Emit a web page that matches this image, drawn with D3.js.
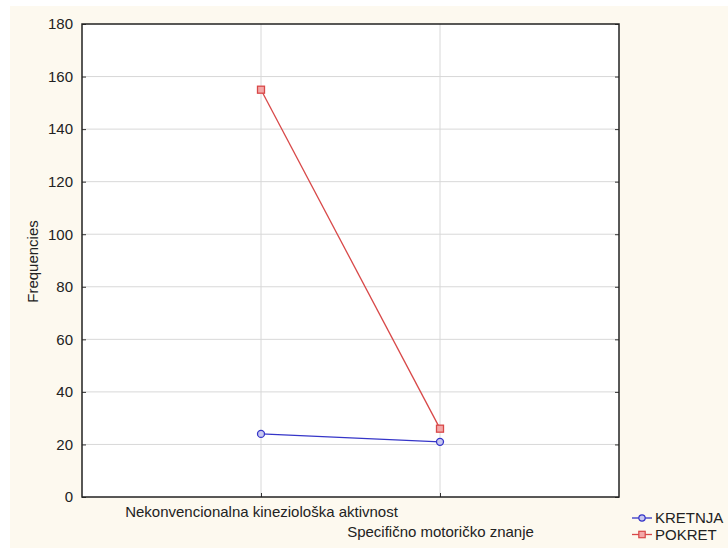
<!DOCTYPE html>
<html>
<head>
<meta charset="utf-8">
<script src="https://cdn.jsdelivr.net/npm/d3@7"></script>
<style>
  body { margin: 0; background: #fff; }
  svg { display: block; font-family: "Liberation Sans", Arial, sans-serif; }
</style>
</head>
<body>
<svg id="chart" width="728" height="548"></svg>
<script>
const categories = ['Nekonvencionalna kineziološka aktivnost', 'Specifično motoričko znanje']
const kretnja = [24, 21]
const pokret = [155, 26]
const yTicks = [0, 20, 40, 60, 80, 100, 120, 140, 160, 180]

const series = [
  { name: 'KRETNJA', values: kretnja, color: '#3535c8', fill: '#c8c8f0', shape: 'circle' },
  { name: 'POKRET', values: pokret, color: '#d84848', fill: '#f4a8a8', shape: 'square' },
]

const fontSize = 15
const svg = d3.select('#chart')
const margins = { top: 24, right: 109, bottom: 51, left: 82 }
const width = 728 - margins.left - margins.right
const height = 548 - margins.top - margins.bottom

svg.append('rect')
  .attr('x', 10).attr('y', 6)
  .attr('width', 718).attr('height', 542)
  .attr('fill', '#fdf9ef')

const g = svg.append('g')
  .attr('transform', `translate(${margins.left}, ${margins.top})`)

const x = d3.scalePoint().domain(categories).range([0, width]).padding(1)
const y = d3.scaleLinear().domain([0, 180]).range([height, 0])

g.append('rect')
  .attr('width', width).attr('height', height)
  .attr('fill', '#fff')

// grid
g.selectAll('.hgrid')
  .data(yTicks.slice(1, -1))
  .enter().append('line')
  .attr('x1', 0).attr('x2', width)
  .attr('y1', (d) => y(d)).attr('y2', (d) => y(d))
  .attr('stroke', '#d8d8d8')
g.selectAll('.vgrid')
  .data(categories)
  .enter().append('line')
  .attr('x1', (d) => x(d)).attr('x2', (d) => x(d))
  .attr('y1', 0).attr('y2', height)
  .attr('stroke', '#d8d8d8')

// axes
const leftAxis = d3.axisLeft(y).tickValues(yTicks).tickSize(-4).tickPadding(9)
const yAxis = g.append('g').attr('class', 'axis axis--y').call(leftAxis)
yAxis.select('.domain').remove()
yAxis.selectAll('text').attr('font-size', fontSize).attr('fill', '#222').attr('font-family', null)
yAxis.selectAll('line').attr('stroke', '#333')

const rightAxis = d3.axisRight(y).tickValues(yTicks).tickSize(-4).tickFormat('')
const yAxisR = g.append('g').attr('transform', `translate(${width}, 0)`).call(rightAxis)
yAxisR.select('.domain').remove()
yAxisR.selectAll('line').attr('stroke', '#333')

const bottomAxis = d3.axisBottom(x).tickSize(-4).tickPadding(0)
const xAxis = g.append('g')
  .attr('class', 'axis axis--x')
  .attr('transform', `translate(0, ${height})`)
  .call(bottomAxis)
xAxis.select('.domain').remove()
xAxis.selectAll('line').attr('stroke', '#333')
xAxis.selectAll('text')
  .attr('font-size', fontSize).attr('fill', '#222').attr('font-family', null)
  .attr('y', (d, i) => 20 + i * 20)
  .attr('dy', 0)

g.append('rect')
  .attr('width', width).attr('height', height)
  .attr('fill', 'none')
  .attr('stroke', '#222')
  .attr('stroke-width', 1.5)

svg.append('text')
  .attr('transform', `translate(38, ${margins.top + height / 2 + 1}) rotate(-90)`)
  .attr('text-anchor', 'middle')
  .attr('font-size', fontSize)
  .attr('fill', '#222')
  .text('Frequencies')

// lines and markers
const line = d3.line()
  .x((d, i) => x(categories[i]))
  .y((d) => y(d))

series.forEach((s) => {
  g.append('path')
    .datum(s.values)
    .attr('d', line)
    .attr('fill', 'none')
    .attr('stroke', s.color)
    .attr('stroke-width', 1.3)
  if (s.shape === 'circle') {
    g.selectAll(null).data(s.values).enter().append('circle')
      .attr('cx', (d, i) => x(categories[i]))
      .attr('cy', (d) => y(d))
      .attr('r', 3.5)
      .attr('fill', s.fill)
      .attr('stroke', s.color)
      .attr('stroke-width', 1.3)
  } else {
    g.selectAll(null).data(s.values).enter().append('rect')
      .attr('x', (d, i) => x(categories[i]) - 3.5)
      .attr('y', (d) => y(d) - 3.5)
      .attr('width', 7).attr('height', 7)
      .attr('fill', s.fill)
      .attr('stroke', s.color)
      .attr('stroke-width', 1.3)
  }
})

// legend
const legend = svg.append('g').attr('transform', 'translate(632, 518)')
series.forEach((s, i) => {
  const lg = legend.append('g').attr('transform', `translate(0, ${i * 16.5})`)
  lg.append('line').attr('x1', 0).attr('x2', 20).attr('stroke', s.color).attr('stroke-width', 1.3)
  if (s.shape === 'circle') {
    lg.append('circle').attr('cx', 10).attr('r', 3.2)
      .attr('fill', s.fill).attr('stroke', s.color).attr('stroke-width', 1.2)
  } else {
    lg.append('rect').attr('x', 6.8).attr('y', -3.2).attr('width', 6.4).attr('height', 6.4)
      .attr('fill', s.fill).attr('stroke', s.color).attr('stroke-width', 1.2)
  }
  lg.append('text').attr('x', 23).attr('dy', '0.35em')
    .attr('font-size', fontSize).attr('fill', '#222')
    .text(s.name)
})
</script>
</body>
</html>
